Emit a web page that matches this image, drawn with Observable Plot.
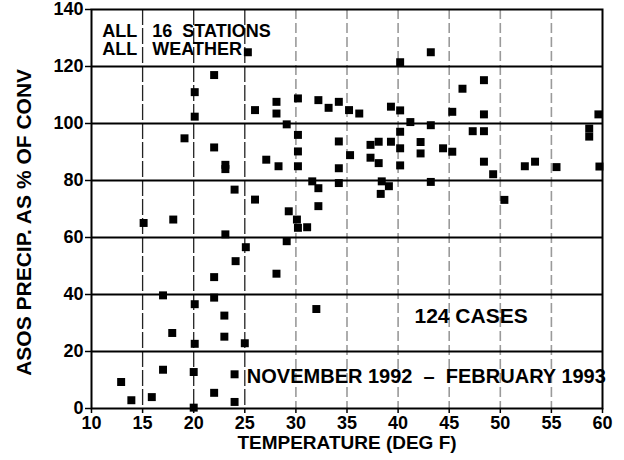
<!DOCTYPE html>
<html><head><meta charset="utf-8">
<script src="https://cdn.jsdelivr.net/npm/d3@7"></script>
<script src="https://cdn.jsdelivr.net/npm/@observablehq/plot@0.6"></script>
<style>body{margin:0;background:#fff;} svg{display:block}</style>
</head><body><div id="chart"></div>
<script>
const temperature = [
  25.3,43.2,40.2,22,20.1,20.1,19.1,22,23.1,23.1,
  26,28.1,28.1,30.2,29.1,30.2,30.2,30.2,27.1,28.3,
  32.2,33.2,34.2,35.2,36.2,34.2,34.2,31.6,32.2,34.2,
  24,26,32.2,35.3,37.3,37.3,38.1,39.3,40.2,40.2,
  38.1,40.2,42.2,42.2,44.4,45.3,43.2,38.4,39.1,38.3,
  39.3,40.2,41.2,43.2,46.3,45.3,47.3,48.4,48.4,48.4,
  59.6,58.7,58.7,48.4,49.3,52.4,53.4,55.5,59.7,50.4,
  15.1,18,23.1,29.3,30.1,30.2,31.1,29.1,25.1,24.1,
  22,28.1,17,22,20.1,23,32,17.9,23,20.1,
  25,17,20,24,12.9,22,13.9,15.9,24,20
];
const precipPct = [
  125,125,121.5,117,111,102.4,94.8,91.6,85.5,84,
  104.7,107.6,103.5,108.8,99.7,96,90.2,85,87.3,85,
  108.2,105.5,107.6,104.7,103.5,93.7,84.3,79.7,77.3,79.1,
  76.8,73.3,71,88.9,92.5,88,93.6,93.6,97.1,91.3,
  86.1,85.3,93.5,89.5,91.3,90.1,79.5,79.7,78,75.3,
  105.9,104.6,100.5,99.4,112.2,104.1,97.3,97.3,115.2,103.2,
  103.2,98.2,95.4,86.6,82.2,85,86.6,84.7,84.9,73.2,
  65.1,66.3,61.1,69.2,66.3,63.4,63.6,58.7,56.6,51.7,
  46.1,47.3,39.7,38.9,36.6,32.6,34.9,26.5,25.2,22.7,
  22.9,13.6,12.8,12,9.3,5.5,2.9,4.0,2.3,0.3
];
const xTicks = [10,15,20,25,30,35,40,45,50,55,60];
const yTicks = [0,20,40,60,80,100,120,140];
const hGrid = [20,40,60,80,100,120];
const vGridDark = [15,20,25];
const vGridLight = [30,35,40,45,50,55];
const xTitle = "TEMPERATURE (DEG F)";
const yTitle = [{x: 3.45, y: 65.3, text: "ASOS PRECIP. AS % OF CONV"}];
const notes = [
  {x: 11.05, y: 132.3, text: "ALL", size: 18},
  {x: 15.95, y: 132.3, text: "16\u00a0\u00a0STATIONS", size: 18},
  {x: 11.05, y: 125.9, text: "ALL", size: 18},
  {x: 15.95, y: 125.9, text: "WEATHER", size: 18},
  {x: 41.6, y: 32.4, text: "124 CASES", size: 21},
  {x: 25.2, y: 11.3, text: "NOVEMBER 1992\u00a0\u00a0–\u00a0\u00a0FEBRUARY 1993", size: 20}
];

const data = temperature.map((t, i) => ({t, p: precipPct[i]}));

const chart = Plot.plot({
  width: 624,
  height: 460,
  marginLeft: 91,
  marginRight: 22,
  marginTop: 9,
  marginBottom: 52,
  style: {fontFamily: "'Liberation Sans', Arial, sans-serif", fontWeight: "bold", fontSize: "18px", color: "#000", background: "#fff"},
  x: {domain: [10, 60]},
  y: {domain: [0, 140]},
  marks: [
    Plot.ruleX(vGridLight, {stroke: "#9a9a9a", strokeWidth: 1.6, strokeDasharray: "10,4"}),
    Plot.ruleX(vGridDark, {stroke: "#222", strokeWidth: 1.3, strokeDasharray: "16,3"}),
    Plot.ruleY(hGrid, {stroke: "#000", strokeWidth: 2}),
    Plot.frame({stroke: "#000", strokeWidth: 2}),
    Plot.axisY({ticks: yTicks, tickSize: 6, tickPadding: 2, label: null, fontSize: 18, strokeWidth: 1.5}),
    Plot.axisX({ticks: xTicks, tickSize: 5, tickPadding: 3, label: null, fontSize: 18, strokeWidth: 1.5}),
    Plot.dot(data, {x: "t", y: "p", symbol: "square", r: 4.5, fill: "#000", stroke: null}),
    Plot.text(notes, {x: "x", y: "y", text: "text", fontSize: d => d.size, textAnchor: "start", fill: "#000"}),
    Plot.text([xTitle], {frameAnchor: "bottom", dy: 40, fontSize: 19, fill: "#000"}),
    Plot.text(yTitle, {x: "x", y: "y", text: "text", rotate: -90, fontSize: 21, fill: "#000"})
  ]
});
document.getElementById("chart").appendChild(chart);
</script>
</body></html>
